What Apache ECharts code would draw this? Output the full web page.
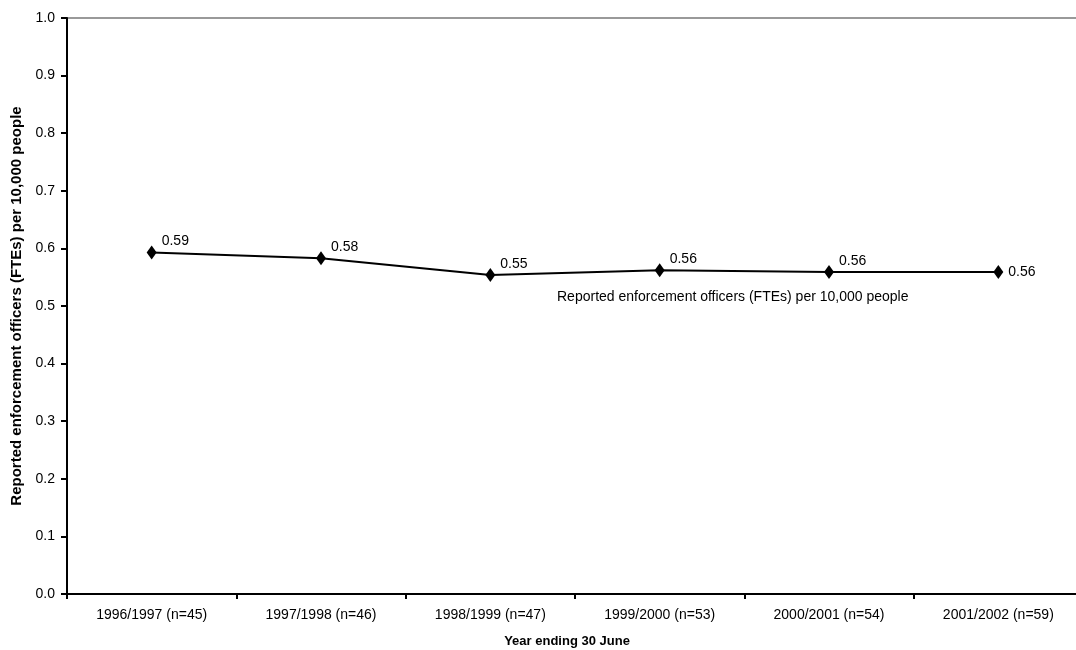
<!DOCTYPE html>
<html>
<head>
<meta charset="utf-8">
<script src="https://cdn.jsdelivr.net/npm/echarts@6/dist/echarts.min.js"></script>
<style>
  html, body { margin: 0; padding: 0; background: #fff; }
  #main { width: 1076px; height: 650px; }
</style>
</head>
<body>
<div id="main"></div>
<script type="text/javascript">
// data
var categories = ['1996/1997 (n=45)', '1997/1998 (n=46)', '1998/1999 (n=47)',
                  '1999/2000 (n=53)', '2000/2001 (n=54)', '2001/2002 (n=59)'];
var officersPer10k = [0.593, 0.583, 0.554, 0.562, 0.559, 0.559];
var seriesName = 'Reported enforcement officers (FTEs) per 10,000 people';
var yTitle = 'Reported enforcement officers (FTEs) per 10,000 people';
var xTitle = 'Year ending 30 June';

var myChart = echarts.init(document.getElementById('main'));
var font = 'Liberation Sans, Arial, sans-serif';

// last point has its label to the right, others up-right
var points = officersPer10k.map(function (v, i) {
  var item = { value: v };
  if (i === officersPer10k.length - 1) {
    item.label = { offset: [0, 0] };
  }
  return item;
});

var option = {
  backgroundColor: '#fff',
  animation: false,
  textStyle: { fontFamily: font },
  grid: {
    left: 67, top: 18, bottom: 56, right: -7,
    outerBoundsMode: 'none',
    containLabel: false,
    show: true, borderColor: '#999', borderWidth: 2
  },
  xAxis: {
    type: 'category',
    data: categories,
    boundaryGap: true,
    name: xTitle,
    nameLocation: 'middle',
    nameGap: 41,
    nameTextStyle: { fontFamily: font, fontSize: 13, fontWeight: 'bold', color: '#000', padding: [0, 16, 0, 0] },
    axisLine: { lineStyle: { color: '#000', width: 2 } },
    axisTick: { show: true, length: 5, lineStyle: { color: '#000', width: 2 } },
    axisLabel: { color: '#000', fontSize: 14, fontFamily: font, margin: 14, interval: 0 },
    splitLine: { show: false }
  },
  yAxis: {
    type: 'value',
    min: 0, max: 1, interval: 0.1,
    name: yTitle,
    nameLocation: 'middle',
    nameGap: 43,
    nameTextStyle: { fontFamily: font, fontSize: 15, fontWeight: 'bold', color: '#000' },
    axisLine: { show: true, lineStyle: { color: '#000', width: 2 } },
    axisTick: { show: true, length: 6, lineStyle: { color: '#000', width: 2 } },
    axisLabel: {
      color: '#000', fontSize: 14, fontFamily: font, margin: 12,
      formatter: function (v) { return v.toFixed(1); }
    },
    splitLine: { show: false }
  },
  series: [{
    name: seriesName,
    type: 'line',
    data: points,
    symbol: 'diamond',
    symbolSize: [10, 14],
    itemStyle: { color: '#000' },
    lineStyle: { color: '#000', width: 2 },
    label: {
      show: true,
      position: 'right',
      distance: 5,
      offset: [0, -11],
      color: '#000',
      fontSize: 14,
      fontFamily: font,
      formatter: function (p) { return p.value.toFixed(2); }
    }
  }],
  graphic: [{
    type: 'text',
    left: 557,
    top: 290,
    style: { text: seriesName, fill: '#000', fontSize: 14, fontFamily: font }
  }]
};

myChart.setOption(option);
</script>
</body>
</html>
